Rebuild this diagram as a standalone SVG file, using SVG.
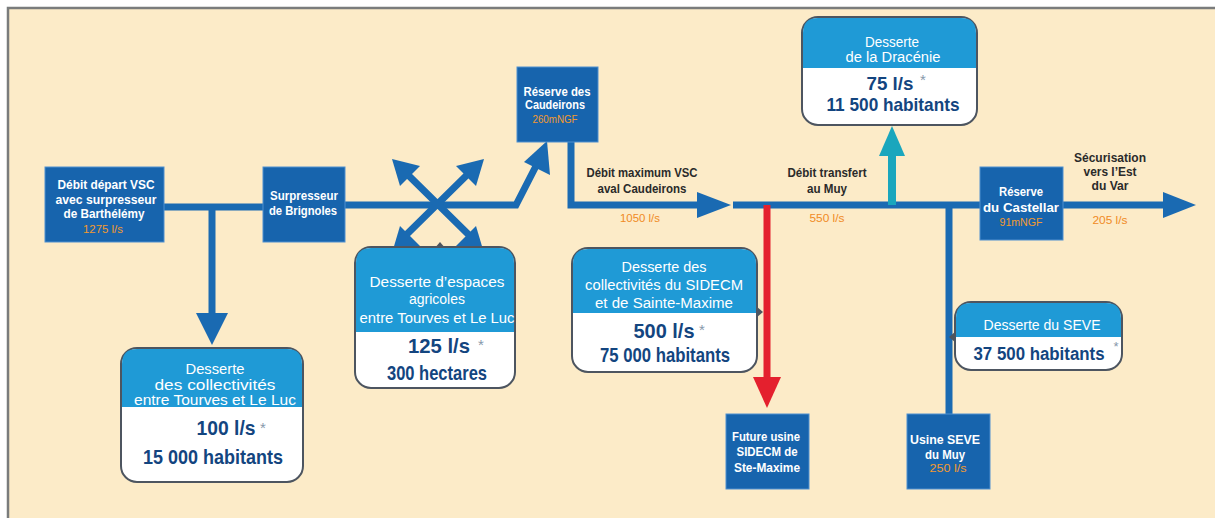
<svg xmlns="http://www.w3.org/2000/svg" width="1215" height="518" viewBox="0 0 1215 518">
<style>
.t{font-family:"Liberation Sans",Arial,sans-serif;text-anchor:middle}
.bx{fill:#1764ad;stroke:#4f8fcf;stroke-width:1}
.bt{fill:#fff;font-weight:bold;font-size:12.5px}
.or{fill:#f39a2e;font-size:11px}
.lb{fill:#2a2a2a;font-weight:bold;font-size:13px}
.ol{fill:#f08a24;font-size:11.5px}
.cb{fill:#fff;stroke:#4d5560;stroke-width:2}
.ch{fill:#1f9ad6}
.ht{fill:#fff;font-size:15.5px}
.vt{fill:#13457f;font-weight:bold;font-size:21px}
.st{fill:#8798ab;font-size:15px}
.ln{stroke:#1a6ab2;stroke-width:7;fill:none}
.ah{fill:#1a6ab2}
.pt{fill:#4d5560}
</style>
<rect x="0" y="0" width="1215" height="518" fill="#fff"/>
<rect x="9" y="9" width="1210" height="515" fill="#fcebc8"/>
<path d="M8 518 V8 H1215" fill="none" stroke="#7a7c7c" stroke-width="2.5"/>

<g id="connectors">
  <path class="ln" d="M164 207 H263"/>
  <path class="ln" d="M212 207 V316"/>
  <polygon class="ah" points="196,313 228,313 212,345"/>
  <path class="ln" d="M345 205 H516 L536 166"/>
  <polygon class="ah" points="524,162 550,175 547,141"/>
  <path class="ln" d="M405 172 L470 236 M470 172 L405 236"/>
  <polygon class="ah" points="392,159 420,166 400,186"/>
  <polygon class="ah" points="484,159 456,166 476,186"/>
  <polygon class="ah" points="392,253 420,246 400,226"/>
  <polygon class="ah" points="484,253 456,246 476,226"/>
  <path class="ln" d="M571 142 V205 H700"/>
  <polygon class="ah" points="697,192 697,218 731,205"/>
  <path class="ln" d="M733 205 H980"/>
  <path d="M767 205 V380" stroke="#e4202e" stroke-width="7" fill="none"/>
  <polygon points="753,377 781,377 767,408" fill="#e4202e"/>
  <path d="M892 205 V153" stroke="#1aa6bd" stroke-width="8" fill="none"/>
  <polygon points="879,156 905,156 892,126" fill="#1aa6bd"/>
  <path class="ln" d="M949 205 V414"/>
  <path class="ln" d="M1063 205 H1166"/>
  <polygon class="ah" points="1163,192 1163,218 1196,205"/>
</g>

<g id="labels">
  <text class="t lb" x="642" y="177" textLength="111" lengthAdjust="spacingAndGlyphs">Débit maximum VSC</text>
  <text class="t lb" x="642" y="193" textLength="89" lengthAdjust="spacingAndGlyphs">aval Caudeirons</text>
  <text class="t ol" x="640" y="222" textLength="40" lengthAdjust="spacingAndGlyphs">1050 l/s</text>
  <text class="t lb" x="827" y="177" textLength="79" lengthAdjust="spacingAndGlyphs">Débit transfert</text>
  <text class="t lb" x="827" y="193" textLength="40" lengthAdjust="spacingAndGlyphs">au Muy</text>
  <text class="t ol" x="827" y="222" textLength="35" lengthAdjust="spacingAndGlyphs">550 l/s</text>
  <text class="t lb" x="1110" y="162" textLength="72" lengthAdjust="spacingAndGlyphs">Sécurisation</text>
  <text class="t lb" x="1110" y="176" textLength="53" lengthAdjust="spacingAndGlyphs">vers l’Est</text>
  <text class="t lb" x="1110" y="190" textLength="37" lengthAdjust="spacingAndGlyphs">du Var</text>
  <text class="t ol" x="1110" y="224" textLength="35" lengthAdjust="spacingAndGlyphs">205 l/s</text>
</g>

<g id="node-debit-depart">
  <rect class="bx" x="45" y="167" width="119" height="75"/>
  <text class="t bt" x="106" y="189" textLength="97" lengthAdjust="spacingAndGlyphs">Débit départ VSC</text>
  <text class="t bt" x="106" y="204" textLength="101" lengthAdjust="spacingAndGlyphs">avec surpresseur</text>
  <text class="t bt" x="104" y="218" textLength="81" lengthAdjust="spacingAndGlyphs">de Barthélémy</text>
  <text class="t or" x="103" y="233" textLength="40" lengthAdjust="spacingAndGlyphs">1275 l/s</text>
</g>
<g id="node-surpresseur">
  <rect class="bx" x="263" y="167" width="82" height="75"/>
  <text class="t bt" x="304" y="200" textLength="68" lengthAdjust="spacingAndGlyphs">Surpresseur</text>
  <text class="t bt" x="303" y="215" textLength="68" lengthAdjust="spacingAndGlyphs">de Brignoles</text>
</g>
<g id="node-caudeirons">
  <rect class="bx" x="517" y="67" width="81" height="75"/>
  <text class="t bt" x="557" y="96" textLength="67" lengthAdjust="spacingAndGlyphs">Réserve des</text>
  <text class="t bt" x="555" y="109" textLength="60" lengthAdjust="spacingAndGlyphs">Caudeirons</text>
  <text class="t or" x="555" y="123" textLength="45" lengthAdjust="spacingAndGlyphs">260mNGF</text>
</g>
<g id="node-castellar">
  <rect class="bx" x="980" y="167" width="83" height="73"/>
  <text class="t bt" x="1021" y="196" textLength="44" lengthAdjust="spacingAndGlyphs">Réserve</text>
  <text class="t bt" x="1021" y="212" textLength="76" lengthAdjust="spacingAndGlyphs">du Castellar</text>
  <text class="t or" x="1021" y="226" textLength="43" lengthAdjust="spacingAndGlyphs">91mNGF</text>
</g>
<g id="node-future-usine">
  <rect class="bx" x="726" y="414" width="83" height="75"/>
  <text class="t bt" x="766" y="441" textLength="68" lengthAdjust="spacingAndGlyphs">Future usine</text>
  <text class="t bt" x="767" y="456" textLength="61" lengthAdjust="spacingAndGlyphs">SIDECM de</text>
  <text class="t bt" x="767" y="472" textLength="66" lengthAdjust="spacingAndGlyphs">Ste-Maxime</text>
</g>
<g id="node-usine-seve">
  <rect class="bx" x="907" y="414" width="83" height="75"/>
  <text class="t bt" x="945" y="444" textLength="70" lengthAdjust="spacingAndGlyphs">Usine SEVE</text>
  <text class="t bt" x="945" y="459" textLength="40" lengthAdjust="spacingAndGlyphs">du Muy</text>
  <text class="t or" x="948" y="472" textLength="37" lengthAdjust="spacingAndGlyphs">250 l/s</text>
</g>

<g id="callout-tourves">
  <rect class="cb" x="121" y="348" width="182" height="134" rx="16"/>
  <path class="ch" d="M122 407 V364 Q122 349 137 349 H287 Q302 349 302 364 V407 Z"/>
  <text class="t ht" x="215" y="374" textLength="59" lengthAdjust="spacingAndGlyphs">Desserte</text>
  <text class="t ht" x="215" y="390" textLength="121" lengthAdjust="spacingAndGlyphs">des collectivités</text>
  <text class="t ht" x="215" y="405" textLength="162" lengthAdjust="spacingAndGlyphs">entre Tourves et Le Luc</text>
  <text class="t vt" x="226" y="435" textLength="59" lengthAdjust="spacingAndGlyphs">100 l/s</text>
  <text class="t st" x="263" y="433">*</text>
  <text class="t vt" x="213" y="464" textLength="140" lengthAdjust="spacingAndGlyphs">15 000 habitants</text>
</g>
<g id="callout-agricoles">
  <polygon class="pt" points="434,249 446,249 440,242"/>
  <rect class="cb" x="355" y="247" width="160" height="141" rx="16"/>
  <path class="ch" d="M356 332 V263 Q356 248 371 248 H499 Q514 248 514 263 V332 Z"/>
  <text class="t ht" x="437" y="287" textLength="135" lengthAdjust="spacingAndGlyphs">Desserte d’espaces</text>
  <text class="t ht" x="437" y="304" textLength="56" lengthAdjust="spacingAndGlyphs">agricoles</text>
  <text class="t ht" x="437" y="323" textLength="155" lengthAdjust="spacingAndGlyphs">entre Tourves et Le Luc</text>
  <text class="t vt" x="439" y="353" textLength="62" lengthAdjust="spacingAndGlyphs">125 l/s</text>
  <text class="t st" x="481" y="350">*</text>
  <text class="t vt" x="437" y="380" textLength="100" lengthAdjust="spacingAndGlyphs">300 hectares</text>
</g>
<g id="callout-sidecm">
  <polygon class="pt" points="756,306 756,318 763,312"/>
  <rect class="cb" x="572" y="248" width="185" height="124" rx="16"/>
  <path class="ch" d="M573 313 V264 Q573 249 588 249 H741 Q756 249 756 264 V313 Z"/>
  <text class="t ht" x="664" y="272" textLength="85" lengthAdjust="spacingAndGlyphs">Desserte des</text>
  <text class="t ht" x="664" y="290" textLength="158" lengthAdjust="spacingAndGlyphs">collectivités du SIDECM</text>
  <text class="t ht" x="664" y="308" textLength="138" lengthAdjust="spacingAndGlyphs">et de Sainte-Maxime</text>
  <text class="t vt" x="664" y="338" textLength="61" lengthAdjust="spacingAndGlyphs">500 l/s</text>
  <text class="t st" x="702" y="335">*</text>
  <text class="t vt" x="665" y="362" textLength="130" lengthAdjust="spacingAndGlyphs">75 000 habitants</text>
</g>
<g id="callout-dracenie">
  <rect class="cb" x="802" y="17" width="175" height="108" rx="16"/>
  <path class="ch" d="M803 68 V33 Q803 18 818 18 H961 Q976 18 976 33 V68 Z"/>
  <text class="t ht" x="892" y="47" textLength="54" lengthAdjust="spacingAndGlyphs">Desserte</text>
  <text class="t ht" x="893" y="62" textLength="95" lengthAdjust="spacingAndGlyphs">de la Dracénie</text>
  <text class="t vt" x="890" y="90" textLength="47" lengthAdjust="spacingAndGlyphs" style="font-size:19px">75 l/s</text>
  <text class="t st" x="923" y="85">*</text>
  <text class="t vt" x="893" y="111" textLength="133" lengthAdjust="spacingAndGlyphs" style="font-size:19px">11 500 habitants</text>
</g>
<g id="callout-seve">
  <polygon class="pt" points="956,331 956,343 949,337"/>
  <rect class="cb" x="955" y="302" width="167" height="68" rx="16"/>
  <path class="ch" d="M956 337 V318 Q956 303 971 303 H1106 Q1121 303 1121 318 V337 Z"/>
  <text class="t ht" x="1042" y="330" textLength="117" lengthAdjust="spacingAndGlyphs">Desserte du SEVE</text>
  <text class="t vt" x="1039" y="360" textLength="131" lengthAdjust="spacingAndGlyphs" style="font-size:18px">37 500 habitants</text>
  <text class="t st" x="1116" y="351" style="font-size:13px">*</text>
</g>
</svg>
